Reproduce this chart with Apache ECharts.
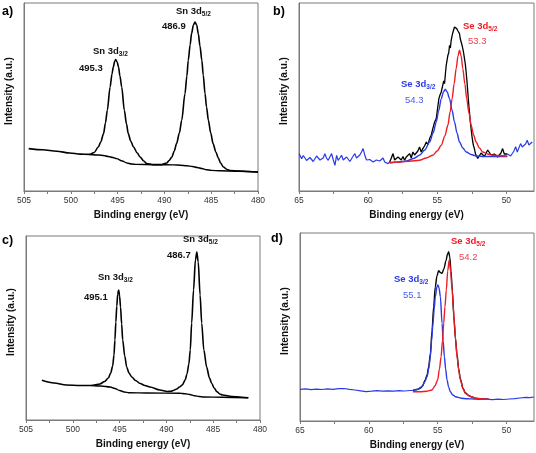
<!DOCTYPE html>
<html><head><meta charset="utf-8">
<script src="https://cdn.jsdelivr.net/npm/echarts@6/dist/echarts.min.js"></script>
<style>html,body{margin:0;padding:0;background:#fff}#c{width:536px;height:453px}</style>
</head><body><div id="c"></div><script>
// ---------- DATA (binding energy eV, intensity a.u.) ----------
const snTicksLabels = [480, 485, 490, 495, 500, 505];
const seTicksLabels = [50, 55, 60, 65];

const snA_env = [[504.5,42.4],[503,41.2],[501.5,39.8],[500.1,38],[499,36.9],[498,36.6],[497.5,38.5],[497.06,44],[496.8,49],[496.5,57.4],[496.3,68],[496.1,80.7],[495.8,104],[495.6,117],[495.46,124],[495.3,130],[495.2,131.4],[495.05,129],[494.9,124],[494.75,115],[494.56,104],[494.28,80.7],[494.05,67],[493.86,57.4],[493.6,50],[493.3,44],[492.9,38],[492.6,34],[492.2,30],[491.9,27.5],[491.2,26.4],[490.3,26.4],[489.75,28],[489.5,30.5],[489.2,34],[488.95,40],[488.7,47.4],[488.4,58],[488.15,70.7],[487.8,97.4],[487.6,115],[487.45,130.7],[487.25,146],[487.1,157.4],[486.9,166],[486.73,169],[486.55,166],[486.38,157.4],[486.2,145],[486,130.7],[485.85,116],[485.66,97.4],[485.5,84],[485.3,70.7],[485.05,58],[484.8,47.4],[484.5,39],[484.24,33],[484,28],[483.7,24],[483.3,21.5],[483,20.5],[482,20],[481,19.5],[480,19]];
const snA_bg = [[498,36.5],[497,36],[496.5,35.5],[496,34.5],[495.5,33.5],[495.1,32.4],[494.5,30],[494,28],[493.5,27],[493,26.6],[491,26.3],[489,26.1],[488.3,25.8],[487.6,25.3],[487,24.5],[486.5,23.5],[486,22.5],[485.5,21.3],[485,20.6],[484,20.2],[482,19.7],[480,19]];

const seB_rawL = [[65,37.4],[64.81,32.4],[64.69,35.5],[64.57,34],[64.45,30.5],[64.33,29],[64.21,33.5],[64.09,32.4],[63.97,29.5],[63.85,30.7],[63.73,35],[63.61,34],[63.48,31],[63.36,29],[63.25,33],[63.13,37.4],[63.01,33],[62.89,30.7],[62.77,34],[62.64,37.4],[62.52,31],[62.4,25.7],[62.28,35.7],[62.17,30.7],[62.05,33],[61.92,35.7],[61.8,31],[61.68,29],[61.56,34],[61.44,32.4],[61.32,29.5],[61.2,30.7],[61.08,35],[60.96,37.4],[60.84,33],[60.72,32.4],[60.6,36],[60.48,39],[60.36,42.4],[60.24,35.7],[60.12,31],[60,29],[59.88,31.5],[59.76,32.4],[59.64,29],[59.52,27.4],[59.4,31],[59.28,32.4],[59.16,30],[59.04,30.7],[58.92,33],[58.8,29],[58.68,30.5],[58.56,27.4],[58.44,29]];
const seB_env = [[58.44,29],[58.32,33],[58.2,37.4],[58.08,31],[57.96,29],[57.84,34],[57.72,35.7],[57.6,31],[57.48,34.5],[57.36,30.7],[57.24,34],[57.12,32],[57,37.4],[56.88,33],[56.76,39],[56.64,36],[56.51,35.7],[56.4,40],[56.28,44],[56.16,39],[56.04,42.4],[55.92,45],[55.79,49],[55.67,46.5],[55.55,52.4],[55.43,56],[55.32,62.4],[55.19,69],[55.07,72.4],[54.98,82],[54.88,92.4],[54.8,96],[54.71,99],[54.6,100.7],[54.53,110],[54.47,107.4],[54.41,117],[54.35,125.7],[54.29,124],[54.23,135.7],[54.17,138],[54.11,145.7],[54.05,143],[53.99,150.7],[53.92,155.7],[53.84,160],[53.75,164],[53.67,165],[53.59,162.4],[53.5,160],[53.39,157.4],[53.33,152],[53.27,149],[53.21,146],[53.15,142.4],[53.09,138],[53.03,132.4],[52.97,127],[52.91,119],[52.85,110],[52.79,99],[52.73,88],[52.67,79],[52.61,70],[52.55,62.4],[52.49,55],[52.43,49],[52.37,45],[52.31,42.4],[52.25,38],[52.19,35.7],[52.07,32.5],[51.95,34],[51.83,38],[51.71,39],[51.59,34.5],[51.47,35.7],[51.35,41],[51.23,40.7],[51.11,36],[51,34],[50.87,37],[50.75,39],[50.63,34],[50.51,35.7],[50.39,38],[50.27,42.4],[50.15,37],[50.03,35.7],[49.93,37]];
const seB_rawR = [[49.93,37],[49.81,37.4],[49.69,35],[49.57,34],[49.45,40],[49.33,44.4],[49.21,39],[49.09,40.7],[48.97,47.4],[48.85,44],[48.73,42.4],[48.61,47],[48.49,50.7],[48.37,46],[48.25,45.4],[48.13,49],[48.08,49]];
const seB_fit32 = [[58.44,28],[57.8,29],[57.24,30],[56.7,32.5],[56.28,35.7],[55.9,41],[55.55,49],[55.3,58],[55.07,69],[54.9,80],[54.71,92.4],[54.55,99],[54.42,101.7],[54.28,99],[54.11,92.4],[53.93,81],[53.75,69],[53.57,58],[53.39,49],[53.15,43],[52.9,39],[52.55,36.5],[52.19,35],[51.6,34.5],[51,34.4],[49.93,34.4]];
const seB_fit52 = [[58.44,28.5],[57.7,29],[57,29.8],[56.28,30.7],[55.8,33],[55.32,35.7],[55,40],[54.71,45.7],[54.45,55],[54.23,65.7],[54.07,79],[53.92,92.4],[53.78,107],[53.63,122.4],[53.5,135],[53.39,140.7],[53.27,135],[53.15,122.4],[53,107],[52.87,92.4],[52.7,78],[52.55,65.7],[52.37,56],[52.19,49],[51.95,43],[51.71,39],[51.35,37],[51,35.7],[49.93,35]];

const snC_env = [[503.3,39.7],[502,37],[500.7,35],[499.2,34.5],[498,34.5],[497.1,36],[496.6,38.5],[496.2,42],[495.95,47],[495.74,54],[495.6,65],[495.5,80],[495.4,98],[495.3,114],[495.2,126],[495.1,130],[495,124],[494.9,113],[494.78,96],[494.67,80],[494.45,64],[494.24,53],[494,47],[493.7,43],[493.3,39.5],[492.8,36.5],[492.3,34.5],[491.75,33],[490.7,30],[489.9,28.5],[489.5,28.8],[489.2,29.8],[488.9,31],[488.6,33],[488.3,35],[488,40],[487.8,46],[487.6,56],[487.45,70],[487.3,97],[487.1,130],[486.9,160],[486.75,168],[486.6,158],[486.4,125],[486.23,97],[486,70],[485.7,53],[485.4,42],[485.15,36.5],[484.9,32],[484.6,28.3],[484.3,26],[484,25],[483,23.5],[482,22.8],[481.25,22.3]];
const snC_bg = [[498,34.5],[497,34],[496,33],[495.5,31.5],[495,29.5],[494.5,28],[494,27.3],[492,27],[488.5,26.8],[488,26.3],[487.5,25.5],[487,24.3],[486.5,23.5],[486,23],[484,22.8],[481.25,22.3]];

const seD_rawL = [[65,31.7],[64.6,32.2],[64.2,31.4],[63.8,31.9],[63.4,31.5],[63,32.1],[62.6,31.6],[62.2,32.3],[61.8,32.5],[61.4,31.7],[61,31],[60.6,30.2],[60.2,29.4],[59.8,29.8],[59.4,30.3],[59,29.8],[58.6,30.2],[58.2,29.9],[57.8,30.4],[57.4,30],[57,30.5],[56.8,30.5]];
const seD_env = [[56.8,30.5],[56.5,31.5],[56.26,32.7],[56.1,35],[55.9,41],[55.77,46],[55.65,54.3],[55.53,67],[55.41,90],[55.29,114.3],[55.17,134.3],[55.05,145],[54.93,150.3],[54.8,148.5],[54.68,147.7],[54.55,152],[54.4,160],[54.28,167],[54.2,169.3],[54.12,164],[54.03,150],[53.93,130],[53.83,105],[53.71,83],[53.59,66],[53.47,52],[53.35,42],[53.15,32.5],[52.98,28],[52.75,25.5],[52.5,24],[52.2,22.5],[51.8,22],[51.3,21.7]];
const seD_rawR = [[51.3,21.7],[51,21.4],[50.6,21.8],[50.2,21.5],[49.8,22],[49.4,22.4],[49,23],[48.6,23.6],[48.3,23.4],[48,24]];
const seD_fit32 = [[56.8,30.3],[56.5,31.5],[56.14,34.3],[55.95,39],[55.77,44.3],[55.65,52],[55.53,64.3],[55.44,80],[55.34,97.7],[55.25,112],[55.17,124.3],[55.05,134],[54.98,136],[54.9,133],[54.8,124.3],[54.68,97.7],[54.6,80],[54.51,64.3],[54.42,52],[54.32,41],[54.2,34],[54.08,29.3],[53.9,26],[53.71,24.3],[53.3,22.8],[52.86,22.3],[52.3,22],[51.3,21.7]];
const seD_fit52 = [[56.8,29.3],[56.26,29.3],[55.8,29.8],[55.41,31],[55.2,35],[55,41],[54.87,52],[54.75,64.3],[54.65,80],[54.56,97.7],[54.47,114],[54.37,131],[54.27,150],[54.16,161],[54.06,150],[53.95,131],[53.86,114],[53.78,97.7],[53.69,80],[53.59,64.3],[53.47,51],[53.35,41],[53.15,32],[52.98,27.5],[52.62,24.5],[52.3,23],[51.8,22],[51.3,21.7]];

// ---------- CHART ----------
const AX = '#7a7a7a';
const BLUE = '#2a3be6', RED = '#ee1c24';
function halfTicks(a, b) { const r = []; for (let v = a; v <= b + 1e-9; v += 2.5) r.push(v); return r; }

const grids = [
  {left: 24, top: 3, width: 234, height: 188},
  {left: 299, top: 3, width: 235, height: 188},
  {left: 26, top: 236, width: 234, height: 184},
  {left: 300, top: 233, width: 234, height: 188}
];
const ranges = [[480, 505], [48, 65], [480, 505], [48, 65]];
const ymax = [188, 188, 184, 188];

const xAxis = ranges.map((r, i) => {
  const labels = (i % 2 === 0) ? snTicksLabels : seTicksLabels;
  return {
    type: 'value', gridIndex: i, min: r[0], max: r[1], inverse: true,
    name: 'Binding energy (eV)', nameLocation: 'middle', nameGap: 19,
    nameTextStyle: {fontFamily: 'Liberation Sans', fontSize: 10, fontWeight: 'bold', color: '#111'},
    axisLine: {show: true, lineStyle: {color: AX, width: 1}},
    axisTick: {show: true, length: 3, inside: false, customValues: halfTicks(i % 2 === 0 ? 480 : 50, r[1]), lineStyle: {color: AX}},
    axisLabel: {show: true, customValues: labels, fontFamily: 'Liberation Sans', fontSize: 8.5, color: '#333', margin: 5, showMinLabel: true, showMaxLabel: true},
    splitLine: {show: false}
  };
});
const yAxis = ymax.map((m, i) => ({
  type: 'value', gridIndex: i, min: 0, max: m,
  name: 'Intensity (a.u.)', nameLocation: 'middle', nameGap: 10, nameRotate: 90,
  nameTextStyle: {fontFamily: 'Liberation Sans', fontSize: 10, fontWeight: 'bold', color: '#111', padding: [0, 0, 0, 12]},
  axisLine: {show: true, lineStyle: {color: AX, width: 1}},
  axisTick: {show: false}, axisLabel: {show: false}, splitLine: {show: false}
}));

function ln(i, data, color, width, smooth, z) {
  return {type: 'line', xAxisIndex: i, yAxisIndex: i, data: data, symbol: 'none', showSymbol: false,
    smooth: smooth, smoothMonotone: smooth ? 'x' : undefined, z: z || 2,
    lineStyle: {color: color, width: width}, animation: false, silent: true, clip: true};
}
const series = [
  ln(0, snA_env, '#000', 1.6, 0.3), ln(0, snA_bg, '#000', 1.4, 0.3),
  ln(1, seB_rawL, BLUE, 1.2, false), ln(1, seB_rawR, BLUE, 1.2, false), ln(1, seB_env, '#000', 1.3, false, 2),
  ln(1, seB_fit32, BLUE, 1.4, 0.3, 3), ln(1, seB_fit52, RED, 1.4, 0.3, 3),
  ln(2, snC_env, '#000', 1.6, 0.3), ln(2, snC_bg, '#000', 1.4, 0.3),
  ln(3, seD_rawL, BLUE, 1.2, false), ln(3, seD_rawR, BLUE, 1.2, false), ln(3, seD_env, '#000', 1.4, 0.3, 2),
  ln(3, seD_fit32, BLUE, 1.4, 0.3, 3), ln(3, seD_fit52, RED, 1.4, 0.3, 3)
];

function peakText(x, y, main, sub, color) {
  return {type: 'text', left: x, top: y, z: 10, silent: true,
    style: {text: '{m|' + main + '}{s|' + sub + '}',
      rich: {
        m: {fontFamily: 'Liberation Sans', fontSize: 9.5, fontWeight: 'bold', fill: color, lineHeight: 12, verticalAlign: 'top'},
        s: {fontFamily: 'Liberation Sans', fontSize: 6.5, fontWeight: 'bold', fill: color, lineHeight: 8, verticalAlign: 'top', padding: [5, 0, 0, 0]}
      }}};
}
function plainText(x, y, txt, color, weight, size) {
  return {type: 'text', left: x, top: y, z: 10, silent: true,
    style: {text: txt, fill: color, fontFamily: 'Liberation Sans', fontSize: size || 9.5, fontWeight: weight || 'normal'}};
}
const graphic = [
  plainText(2, 5, 'a)', '#000', 'bold', 12.5), plainText(273, 5, 'b)', '#000', 'bold', 12.5),
  plainText(2, 234, 'c)', '#000', 'bold', 12.5), plainText(271, 232, 'd)', '#000', 'bold', 12.5),
  peakText(93, 46, 'Sn 3d', '3/2', '#111'), plainText(79, 63, '495.3', '#111', 'bold'),
  peakText(176, 6, 'Sn 3d', '5/2', '#111'), plainText(162, 21, '486.9', '#111', 'bold'),
  peakText(463, 21, 'Se 3d', '5/2', RED), plainText(468, 36, '53.3', '#f04050'),
  peakText(401, 79, 'Se 3d', '3/2', BLUE), plainText(405, 95, '54.3', '#4a5cf0'),
  peakText(98, 272, 'Sn 3d', '3/2', '#111'), plainText(84, 292, '495.1', '#111', 'bold'),
  peakText(183, 234, 'Sn 3d', '5/2', '#111'), plainText(167, 250, '486.7', '#111', 'bold'),
  peakText(451, 236, 'Se 3d', '5/2', RED), plainText(459, 252, '54.2', '#f04050'),
  peakText(394, 274, 'Se 3d', '3/2', BLUE), plainText(403, 290, '55.1', '#4a5cf0')
];

const chart = echarts.init(document.getElementById('c'), null, {renderer: 'canvas'});
chart.setOption({
  animation: false, backgroundColor: '#fff',
  grid: grids.map(g => Object.assign({show: true, borderColor: AX, borderWidth: 1, backgroundColor: 'transparent'}, g)),
  xAxis: xAxis, yAxis: yAxis, series: series, graphic: graphic
});
</script></body></html>
